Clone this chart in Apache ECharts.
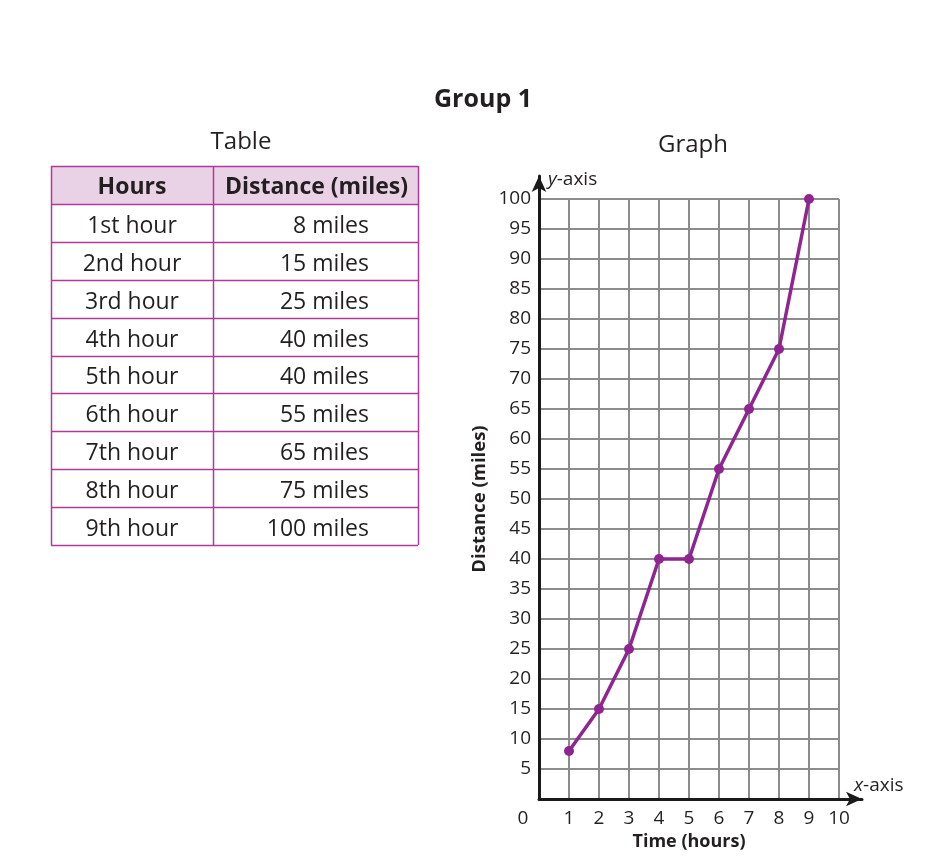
<!DOCTYPE html>
<html>
<head>
<meta charset="utf-8">
<title>Group 1</title>
<script src="https://cdn.jsdelivr.net/npm/echarts@6/dist/echarts.min.js"></script>
<style>
    html, body { margin: 0; padding: 0; background: #fff; }
    #main { width: 936px; height: 856px; }
</style>
</head>
<body>
<div id="main"></div>
<script>
// 数据：小时与距离
var hours = [1, 2, 3, 4, 5, 6, 7, 8, 9];
var distances = [8, 15, 25, 40, 40, 55, 65, 75, 100];
var hourLabels = ['1st hour', '2nd hour', '3rd hour', '4th hour', '5th hour', '6th hour', '7th hour', '8th hour', '9th hour'];
var tableHeaders = ['Hours', 'Distance (miles)'];

var fontFamily = '"Open Sans", Lato, sans-serif';
var textColor = '#231f20';
var tableLine = '#b0399c';
var lineColor = '#8e2591';

// 表格位置
var tableLeft = 51, tableMid = 213, tableRight = 418, tableTop = 166, rowH = 37.9;

function buildTable() {
    var els = [];
    var rows = hourLabels.length + 1;
    var bottom = tableTop + rows * rowH;
    // 表头底色
    els.push({
        type: 'rect',
        shape: { x: tableLeft, y: tableTop, width: tableRight - tableLeft, height: rowH },
        style: { fill: '#ead2e6' }
    });
    // 横线
    for (var i = 0; i <= rows; i++) {
        var y = Math.round(tableTop + i * rowH) + 0.5;
        els.push({
            type: 'line',
            shape: { x1: tableLeft, y1: y, x2: tableRight, y2: y },
            style: { stroke: tableLine, lineWidth: 1.5 }
        });
    }
    // 竖线
    [tableLeft, tableMid, tableRight].forEach(function (x) {
        els.push({
            type: 'line',
            shape: { x1: x + 0.5, y1: tableTop, x2: x + 0.5, y2: bottom },
            style: { stroke: tableLine, lineWidth: 1.5 }
        });
    });
    // 表头文字
    els.push({
        type: 'text', x: (tableLeft + tableMid) / 2, y: tableTop + rowH / 2 + 3,
        style: { text: tableHeaders[0], fontSize: 23, fontWeight: 'bold', fontFamily: fontFamily, fill: textColor, align: 'center', verticalAlign: 'middle' }
    });
    els.push({
        type: 'text', x: (tableMid + tableRight) / 2 + 1, y: tableTop + rowH / 2 + 3,
        style: { text: tableHeaders[1], fontSize: 23, fontWeight: 'bold', fontFamily: fontFamily, fill: textColor, align: 'center', verticalAlign: 'middle' }
    });
    // 每一行
    hourLabels.forEach(function (label, i) {
        var cy = tableTop + (i + 1.5) * rowH + 3.5;
        els.push({
            type: 'text', x: (tableLeft + tableMid) / 2, y: cy,
            style: { text: label, fontSize: 23, fontFamily: fontFamily, fill: textColor, align: 'center', verticalAlign: 'middle' }
        });
        els.push({
            type: 'text', x: 369, y: cy,
            style: { text: distances[i] + ' miles', fontSize: 23, fontFamily: fontFamily, fill: textColor, align: 'right', verticalAlign: 'middle' }
        });
    });
    return els;
}

var chart = echarts.init(document.getElementById('main'));

var option = {
    animation: false,
    backgroundColor: '#fff',
    textStyle: { fontFamily: fontFamily },
    title: [
        { text: 'Group 1', left: 478, top: 82, textAlign: 'center',
          textStyle: { fontSize: 25, fontWeight: 'bold', color: textColor, fontFamily: fontFamily } },
        { text: 'Table', left: 236, top: 125, textAlign: 'center',
          textStyle: { fontSize: 24, fontWeight: 'normal', color: textColor, fontFamily: fontFamily } },
        { text: 'Graph', left: 688, top: 128, textAlign: 'center',
          textStyle: { fontSize: 24, fontWeight: 'normal', color: textColor, fontFamily: fontFamily } }
    ],
    grid: [
        // 网格和折线
        { left: 539, top: 199, width: 300, height: 600, containLabel: false },
        // 带箭头的坐标轴
        { left: 539, top: 176, width: 323, height: 623, containLabel: false }
    ],
    xAxis: [
        {
            type: 'value', gridIndex: 0, min: 0, max: 10, interval: 1,
            name: 'Time (hours)', nameLocation: 'middle', nameGap: 34,
            nameTextStyle: { fontSize: 18, fontWeight: 'bold', color: textColor, fontFamily: fontFamily },
            axisLine: { show: false },
            axisTick: { show: false },
            axisLabel: {
                fontSize: 19, color: textColor, margin: 10, fontFamily: fontFamily,
                formatter: function (v) { return v === 0 ? '{z|0}' : String(v); },
                rich: { z: { fontSize: 19, color: textColor, padding: [0, 32, 0, 0], fontFamily: fontFamily } }
            },
            splitLine: { show: true, lineStyle: { color: '#8c8c8e', width: 2 } }
        },
        {
            type: 'value', gridIndex: 1, min: 0, max: 1,
            name: '{i|x}-axis', nameLocation: 'end', nameGap: -8,
            nameTextStyle: {
                fontSize: 19, color: textColor, align: 'left', verticalAlign: 'bottom', padding: [0, 0, 4, 0],
                rich: { i: { fontSize: 19, fontStyle: 'italic', color: textColor, fontFamily: fontFamily } }
            },
            axisLine: { show: true, symbol: ['none', 'arrow'], symbolSize: [11, 16], symbolOffset: [0, 0],
                        lineStyle: { color: '#1a1a1a', width: 3 } },
            axisTick: { show: false }, axisLabel: { show: false }, splitLine: { show: false }
        }
    ],
    yAxis: [
        {
            type: 'value', gridIndex: 0, min: 0, max: 100, interval: 5,
            name: 'Distance (miles)', nameLocation: 'middle', nameGap: 50,
            nameTextStyle: { fontSize: 18.5, fontWeight: 'bold', color: textColor, fontFamily: fontFamily },
            axisLine: { show: false },
            axisTick: { show: false },
            axisLabel: {
                fontSize: 19, color: textColor, margin: 8, fontFamily: fontFamily, padding: [4, 0, 0, 0],
                formatter: function (v) { return v === 0 ? '' : String(v); }
            },
            splitLine: { show: true, lineStyle: { color: '#8c8c8e', width: 2 } }
        },
        {
            type: 'value', gridIndex: 1, min: 0, max: 1,
            name: '{i|y}-axis', nameLocation: 'end', nameGap: -4,
            nameTextStyle: {
                fontSize: 19, color: textColor, align: 'left', verticalAlign: 'middle', padding: [0, 0, 0, 9],
                rich: { i: { fontSize: 19, fontStyle: 'italic', color: textColor, fontFamily: fontFamily } }
            },
            axisLine: { show: true, symbol: ['none', 'arrow'], symbolSize: [11, 16], symbolOffset: [0, 0],
                        lineStyle: { color: '#1a1a1a', width: 3 } },
            axisTick: { show: false }, axisLabel: { show: false }, splitLine: { show: false }
        }
    ],
    series: [
        {
            type: 'line',
            xAxisIndex: 0, yAxisIndex: 0,
            data: hours.map(function (h, i) { return [h, distances[i]]; }),
            symbol: 'circle', symbolSize: 10,
            lineStyle: { color: lineColor, width: 3.5 },
            itemStyle: { color: lineColor },
            z: 5
        }
    ],
    graphic: buildTable()
};

chart.setOption(option);
</script>
</body>
</html>
